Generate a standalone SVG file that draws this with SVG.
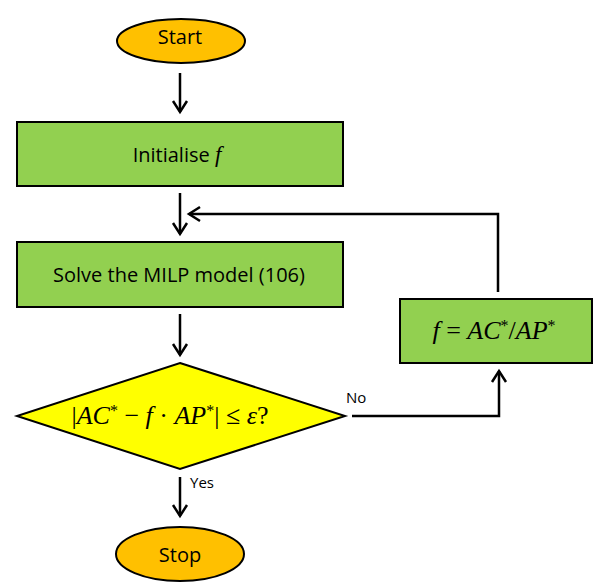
<svg xmlns="http://www.w3.org/2000/svg" width="595" height="583" viewBox="0 0 595 583">
<defs>
<style>
.term{fill:#FFC000;stroke:#000;stroke-width:2}
.proc{fill:#92D050;stroke:#000;stroke-width:2}
.dec{fill:#FFFF00;stroke:#000;stroke-width:2}
.lbl{font-family:"Open Sans","Liberation Sans",sans-serif;font-size:20px;fill:#000;text-anchor:middle}
.small{font-family:"Open Sans","Liberation Sans",sans-serif;font-size:15px;fill:#000}
.math{font-family:"Liberation Serif","DejaVu Serif",serif;font-size:26px;fill:#000;text-anchor:middle}
.it{font-style:italic}
.sup{font-size:16px}
.conn{fill:none;stroke:#000;stroke-width:2.5}
</style>
<marker id="arr" markerUnits="userSpaceOnUse" markerWidth="20" markerHeight="20" viewBox="-14 -10 18 20" refX="0" refY="0" orient="auto">
<path d="M-11,-7 L0,0 L-11,7" fill="none" stroke="#000" stroke-width="2.5" stroke-linejoin="miter"/>
</marker>
</defs>
<g id="connectors">
<line class="conn" x1="180" y1="73" x2="180" y2="112" marker-end="url(#arr)"/>
<line class="conn" x1="180" y1="193" x2="180" y2="234" marker-end="url(#arr)"/>
<polyline class="conn" points="498,292 498,214 189,214" marker-end="url(#arr)"/>
<line class="conn" x1="180" y1="314" x2="180" y2="355" marker-end="url(#arr)"/>
<polyline class="conn" points="352,416 499,416 499,371" marker-end="url(#arr)"/>
<line class="conn" x1="180" y1="477" x2="180" y2="516" marker-end="url(#arr)"/>
<text class="small" x="346" y="403">No</text>
<text class="small" x="190" y="488">Yes</text>
</g>
<g id="start">
<ellipse class="term" cx="181" cy="41" rx="64" ry="22"/>
<text class="lbl" x="180" y="44">Start</text>
</g>
<g id="init">
<rect class="proc" x="17" y="122" width="326" height="64"/>
<text class="lbl" x="177" y="162">Initialise <tspan class="it" font-family="Liberation Serif, serif" font-size="23">f</tspan></text>
</g>
<g id="solve">
<rect class="proc" x="17" y="242" width="326" height="65"/>
<text class="lbl" x="179" y="282">Solve the MILP model (106)</text>
</g>
<g id="update">
<rect class="proc" x="400" y="299" width="192" height="64"/>
<text class="math" x="494" y="339"><tspan class="it">f</tspan> = <tspan class="it">AC</tspan><tspan class="sup" dy="-8">*</tspan><tspan dy="8">/</tspan><tspan class="it">AP</tspan><tspan class="sup" dy="-8">*</tspan></text>
</g>
<g id="check">
<polygon class="dec" points="180,363 345,416 180,469 17,416"/>
<text class="math" x="170" y="424">|<tspan class="it">AC</tspan><tspan class="sup" dy="-8">*</tspan><tspan dy="8"> − </tspan><tspan class="it">f</tspan> · <tspan class="it">AP</tspan><tspan class="sup" dy="-8">*</tspan><tspan dy="8">| ≤ </tspan><tspan class="it">ε</tspan>?</text>
</g>
<g id="stop">
<ellipse class="term" cx="180" cy="554" rx="64" ry="27"/>
<text class="lbl" x="180" y="562">Stop</text>
</g>
</svg>
